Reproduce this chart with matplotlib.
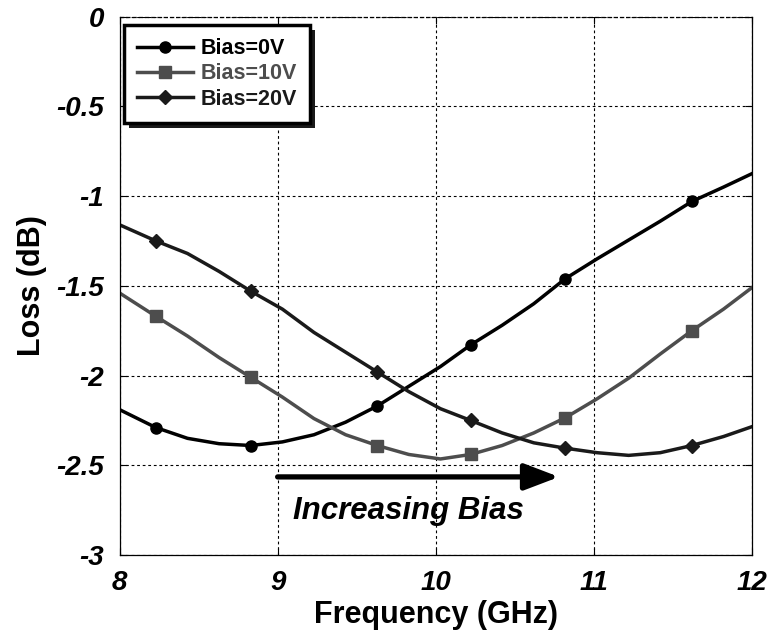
import matplotlib.pyplot as plt
from matplotlib.patches import Rectangle

plt.rcParams['font.family'] = ['Liberation Sans', 'DejaVu Sans']
plt.rcParams['font.weight'] = 'bold'

# Frecuencia (GHz) y pérdidas (dB) para cada polarización
freq = [8.0, 8.23, 8.43, 8.63, 8.83, 9.03, 9.23, 9.43, 9.63, 9.83, 10.03,
        10.22, 10.42, 10.62, 10.82, 11.02, 11.22, 11.42, 11.62, 11.82, 12.0]
loss_0v = [-2.19, -2.29, -2.35, -2.38, -2.39, -2.37, -2.33, -2.26, -2.17, -2.06, -1.95,
           -1.83, -1.72, -1.60, -1.46, -1.35, -1.245, -1.14, -1.03, -0.95, -0.875]
loss_10v = [-1.54, -1.67, -1.78, -1.90, -2.01, -2.12, -2.24, -2.33, -2.39, -2.44, -2.465,
            -2.44, -2.39, -2.32, -2.235, -2.13, -2.015, -1.88, -1.75, -1.63, -1.51]
loss_20v = [-1.16, -1.25, -1.32, -1.42, -1.53, -1.63, -1.76, -1.87, -1.98, -2.09, -2.185,
            -2.25, -2.32, -2.375, -2.405, -2.43, -2.445, -2.43, -2.39, -2.34, -2.285]
labels = ['Bias=0V', 'Bias=10V', 'Bias=20V']
marks = [1, 4, 8, 11, 14, 18]

fig = plt.figure(figsize=(7.75, 6.39), dpi=100)
ax = fig.add_axes([0.1542, 0.1315, 0.8161, 0.8425])

ax.plot(freq, loss_0v, color='black', lw=2.5, marker='o', ms=8, markevery=marks, label=labels[0])
ax.plot(freq, loss_10v, color='#4d4d4d', lw=2.5, marker='s', ms=8, markevery=marks, label=labels[1])
ax.plot(freq, loss_20v, color='#1a1a1a', lw=2.5, marker='D', ms=7.5, markevery=marks, label=labels[2])

# Flecha de "Increasing Bias"
ax.annotate('', xy=(10.78, -2.565), xytext=(9.0, -2.565),
            arrowprops=dict(arrowstyle='-|>,head_length=1.05,head_width=0.4',
                            lw=3.8, color='black', mutation_scale=20,
                            shrinkA=0, shrinkB=0))
ax.text(9.83, -2.755, 'Increasing Bias', fontsize=22.5, fontstyle='italic',
        fontweight='bold', ha='center', va='center')

ax.set_xlim(8, 12)
ax.set_ylim(-3, 0)
ax.set_xticks([8, 9, 10, 11, 12])
ax.set_xticklabels(['8', '9', '10', '11', '12'])
ax.set_yticks([-3, -2.5, -2, -1.5, -1, -0.5, 0])
ax.set_yticklabels(['-3', '-2.5', '-2', '-1.5', '-1', '-0.5', '0'])
for t in ax.get_xticklabels() + ax.get_yticklabels():
    t.set_fontstyle('italic')
    t.set_fontweight('bold')
    t.set_fontsize(20)
ax.tick_params(axis='x', direction='in', length=5, pad=11, top=True)
ax.tick_params(axis='y', direction='in', length=5, pad=11, right=True)

ax.grid(True, color='black', lw=0.8, linestyle=(0, (2.5, 2.5)))
for s in ax.spines.values():
    s.set_linewidth(0.9)
ax.spines['top'].set_linestyle((0, (2.5, 2.5)))

ax.set_xlabel('Frequency (GHz)', fontsize=22, fontweight='bold', labelpad=3)
ax.set_ylabel('Loss (dB)', fontsize=22, fontweight='bold', labelpad=7)

leg = ax.legend(loc='upper left', bbox_to_anchor=(0.007, 0.984), borderaxespad=0,
                fontsize=15.5, handlelength=2.6, handletextpad=0.35, borderpad=0.6,
                labelspacing=0.2, fancybox=False, edgecolor='black',
                labelcolor='linecolor')
leg.get_frame().set_linewidth(2.5)
leg.get_frame().set_alpha(1)

# Sombra desplazada de la leyenda
fig.canvas.draw()
bb = leg.get_window_extent()
ax.add_patch(Rectangle((bb.x0 + 5, bb.y0 - 5), bb.width, bb.height, transform=None,
                       facecolor='#1a1a1a', edgecolor='none', zorder=4.9, clip_on=False))

fig.savefig('out.png', dpi=100)
